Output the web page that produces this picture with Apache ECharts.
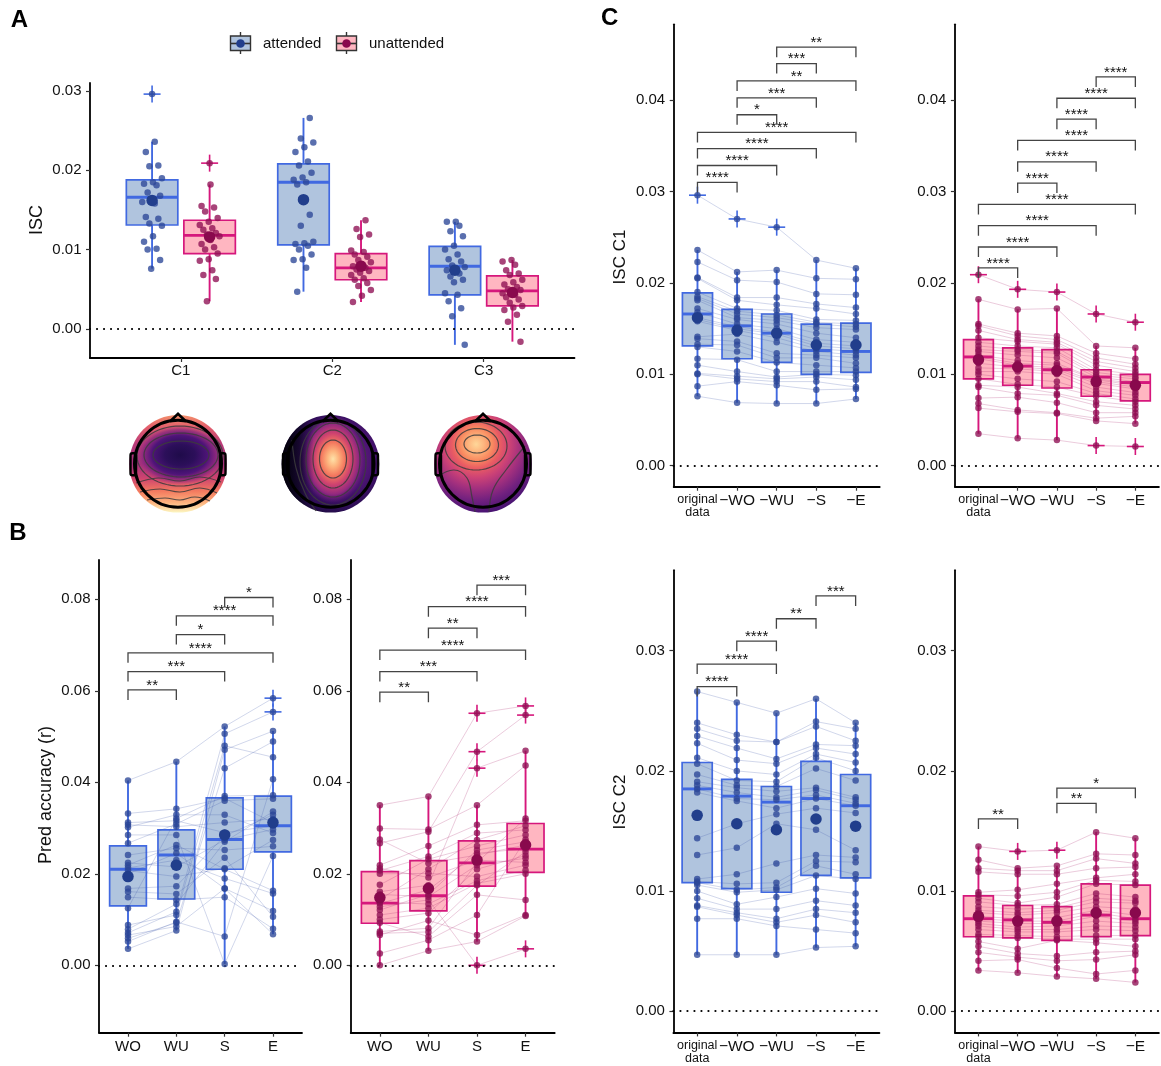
<!DOCTYPE html>
<html><head><meta charset="utf-8">
<script src="https://cdn.jsdelivr.net/npm/echarts@6/dist/echarts.min.js"></script>
<style>html,body{margin:0;padding:0;background:#fff}#c{width:1161px;height:1066px}</style>
</head><body><div id="c"></div>
<script>
const FONT = "'Liberation Sans', Arial, Helvetica, sans-serif";
// ---------- categories & ticks ----------
const CAT_A = ['C1', 'C2', 'C3'];
const CAT_B = ['WO', 'WU', 'S', 'E'];
const CAT_C = ['original\ndata', '−WO', '−WU', '−S', '−E'];
const GROUPS = ['attended', 'unattended'];
const TICKS_A = [0, 0.01, 0.02, 0.03];
const TICKS_B = [0, 0.02, 0.04, 0.06, 0.08];
const TICKS_C1 = [0, 0.01, 0.02, 0.03, 0.04];
const TICKS_C2 = [0, 0.01, 0.02, 0.03];

// ---------- C1 ISC (per subject): original, -WO, -WU, -S, -E ----------
const C1_ATT_ORIG = [0.0296,0.0236,0.0223,0.0206,0.0205,0.0190,0.0185,0.0183,0.0181,0.0172,0.0168,0.0162,0.0160,0.0158,0.0141,0.0139,0.0133,0.0130,0.0117,0.0110,0.0101,0.0100,0.0087,0.0076];
const C1_ATT_WO = [0.0270,0.0212,0.0203,0.0184,0.0181,0.0172,0.0169,0.0166,0.0162,0.0160,0.0155,0.0152,0.0150,0.0148,0.0144,0.0136,0.0132,0.0125,0.0116,0.0103,0.0098,0.0095,0.0092,0.0069];
const C1_ATT_WU = [0.0261,0.0214,0.0201,0.0184,0.0176,0.0170,0.0165,0.0162,0.0159,0.0155,0.0150,0.0146,0.0144,0.0140,0.0135,0.0123,0.0118,0.0113,0.0103,0.0097,0.0095,0.0092,0.0088,0.0068];
const C1_ATT_S = [0.0225,0.0205,0.0188,0.0177,0.0172,0.0160,0.0157,0.0155,0.0151,0.0145,0.0138,0.0134,0.0131,0.0128,0.0125,0.0121,0.0118,0.0110,0.0103,0.0100,0.0097,0.0092,0.0083,0.0068];
const C1_ATT_E = [0.0216,0.0204,0.0187,0.0173,0.0166,0.0159,0.0155,0.0152,0.0149,0.0140,0.0135,0.0131,0.0128,0.0125,0.0121,0.0118,0.0112,0.0107,0.0103,0.0099,0.0094,0.0086,0.0084,0.0073];
const C1_UN_ORIG = [0.0209,0.0182,0.0155,0.0153,0.0148,0.0140,0.0135,0.0131,0.0127,0.0125,0.0121,0.0119,0.0117,0.0112,0.0107,0.0103,0.0100,0.0095,0.0088,0.0086,0.0074,0.0068,0.0063,0.0035];
const C1_UN_WO = [0.0193,0.0171,0.0145,0.0142,0.0138,0.0136,0.0131,0.0127,0.0125,0.0121,0.0115,0.0112,0.0110,0.0108,0.0106,0.0103,0.0095,0.0089,0.0086,0.0079,0.0075,0.0061,0.0059,0.0030];
const C1_UN_WU = [0.0190,0.0172,0.0142,0.0138,0.0135,0.0133,0.0129,0.0125,0.0123,0.0118,0.0112,0.0110,0.0107,0.0105,0.0103,0.0100,0.0092,0.0086,0.0079,0.0077,0.0069,0.0058,0.0057,0.0028];
const C1_UN_S = [0.0166,0.0131,0.0123,0.0118,0.0114,0.0110,0.0105,0.0102,0.0099,0.0097,0.0095,0.0094,0.0092,0.0090,0.0086,0.0082,0.0079,0.0076,0.0070,0.0066,0.0058,0.0052,0.0049,0.0022];
const C1_UN_E = [0.0157,0.0129,0.0117,0.0111,0.0107,0.0103,0.0100,0.0097,0.0095,0.0092,0.0090,0.0088,0.0086,0.0084,0.0080,0.0077,0.0073,0.0070,0.0066,0.0062,0.0058,0.0054,0.0046,0.0021];
// ---------- C2 ISC ----------
const C2_ATT_ORIG = [0.0266,0.0240,0.0235,0.0229,0.0223,0.0211,0.0206,0.0197,0.0191,0.0188,0.0185,0.0182,0.0144,0.0130,0.0110,0.0108,0.0107,0.0105,0.0100,0.0094,0.0088,0.0087,0.0077,0.0047];
const C2_ATT_WO = [0.0257,0.0230,0.0225,0.0219,0.0209,0.0200,0.0192,0.0188,0.0186,0.0182,0.0177,0.0175,0.0156,0.0136,0.0114,0.0106,0.0101,0.0099,0.0089,0.0085,0.0082,0.0080,0.0077,0.0047];
const C2_ATT_WU = [0.0248,0.0224,0.0224,0.0210,0.0206,0.0197,0.0191,0.0187,0.0183,0.0178,0.0176,0.0169,0.0164,0.0156,0.0123,0.0107,0.0103,0.0101,0.0095,0.0085,0.0077,0.0074,0.0071,0.0047];
const C2_ATT_S = [0.0260,0.0241,0.0237,0.0222,0.0219,0.0214,0.0211,0.0202,0.0186,0.0184,0.0180,0.0177,0.0169,0.0151,0.0130,0.0125,0.0121,0.0113,0.0102,0.0092,0.0085,0.0080,0.0068,0.0053];
const C2_ATT_E = [0.0240,0.0235,0.0225,0.0221,0.0214,0.0207,0.0200,0.0192,0.0178,0.0176,0.0173,0.0171,0.0165,0.0134,0.0128,0.0124,0.0114,0.0110,0.0098,0.0088,0.0082,0.0074,0.0065,0.0054];
const C2_UN_ORIG = [0.0137,0.0126,0.0119,0.0116,0.0099,0.0097,0.0094,0.0091,0.0087,0.0084,0.0082,0.0079,0.0077,0.0075,0.0073,0.0071,0.0068,0.0064,0.0062,0.0058,0.0054,0.0049,0.0042,0.0034];
const C2_UN_WO = [0.0133,0.0119,0.0117,0.0114,0.0101,0.0096,0.0090,0.0088,0.0085,0.0082,0.0080,0.0077,0.0075,0.0073,0.0070,0.0068,0.0066,0.0063,0.0061,0.0052,0.0048,0.0045,0.0043,0.0032];
const C2_UN_WU = [0.0134,0.0121,0.0117,0.0114,0.0106,0.0099,0.0095,0.0089,0.0086,0.0084,0.0082,0.0078,0.0075,0.0073,0.0071,0.0068,0.0066,0.0062,0.0060,0.0059,0.0046,0.0042,0.0036,0.0029];
const C2_UN_S = [0.0149,0.0131,0.0127,0.0119,0.0111,0.0109,0.0106,0.0098,0.0094,0.0091,0.0087,0.0084,0.0082,0.0079,0.0075,0.0071,0.0068,0.0063,0.0060,0.0057,0.0049,0.0043,0.0031,0.0027];
const C2_UN_E = [0.0144,0.0130,0.0123,0.0120,0.0114,0.0108,0.0105,0.0095,0.0092,0.0090,0.0085,0.0080,0.0077,0.0075,0.0073,0.0070,0.0067,0.0063,0.0060,0.0054,0.0050,0.0047,0.0034,0.0024];
// ---------- C3 ISC (panel A only) ----------
const C3_ATT = [0.0135,0.0135,0.0130,0.0123,0.0117,0.0105,0.0100,0.0094,0.0088,0.0085,0.0080,0.0078,0.0076,0.0074,0.0070,0.0066,0.0062,0.0059,0.0045,0.0043,0.0035,0.0026,0.0016,-0.0020];
const C3_UN = [0.0087,0.0085,0.0081,0.0074,0.0070,0.0068,0.0062,0.0059,0.0056,0.0053,0.0050,0.0049,0.0047,0.0045,0.0043,0.0040,0.0037,0.0033,0.0029,0.0027,0.0024,0.0018,0.0009,-0.0016];
// ---------- B prediction accuracy (per subject): WO, WU, S, E ----------
const B_ATT_WO = [0.0404,0.0332,0.0312,0.0307,0.0302,0.0285,0.0267,0.0241,0.0224,0.0219,0.0213,0.0207,0.0200,0.0168,0.0161,0.0149,0.0125,0.0088,0.0079,0.0071,0.0066,0.0059,0.0052,0.0036];
const B_ATT_WU = [0.0445,0.0342,0.0316,0.0303,0.0329,0.0285,0.0309,0.0256,0.0215,0.0263,0.0230,0.0194,0.0245,0.0173,0.0156,0.0143,0.0321,0.0110,0.0134,0.0117,0.0085,0.0093,0.0095,0.0076];
const B_ATT_S = [0.0522,0.0365,0.0290,0.0312,0.0329,0.0003,0.0360,0.0252,0.0274,0.0210,0.0190,0.0212,0.0168,0.0283,0.0235,0.0149,0.0370,0.0480,0.0270,0.0506,0.0168,0.0431,0.0063,0.0471];
const B_ATT_E = [0.0584,0.0312,0.0305,0.0320,0.0289,0.0239,0.0364,0.0260,0.0297,0.0163,0.0157,0.0274,0.0119,0.0329,0.0106,0.0080,0.0372,0.0455,0.0336,0.0554,0.0068,0.0489,0.0407,0.0512];
const B_UN_WO = [0.0350,0.0299,0.0275,0.0267,0.0219,0.0212,0.0207,0.0200,0.0176,0.0161,0.0155,0.0144,0.0138,0.0135,0.0128,0.0121,0.0110,0.0100,0.0093,0.0074,0.0070,0.0066,0.0026,0.0000];
const B_UN_WU = [0.0369,0.0297,0.0223,0.0292,0.0261,0.0192,0.0238,0.0201,0.0232,0.0175,0.0150,0.0210,0.0134,0.0165,0.0143,0.0155,0.0125,0.0114,0.0063,0.0081,0.0073,0.0098,0.0055,0.0032];
const B_UN_S = [0.0551,0.0350,0.0241,0.0467,0.0307,0.0230,0.0289,0.0194,0.0261,0.0431,0.0219,0.0274,0.0185,0.0245,0.0000,0.0252,0.0179,0.0210,0.0154,0.0225,0.0175,0.0066,0.0110,0.0052];
const B_UN_E = [0.0567,0.0437,0.0263,0.0547,0.0316,0.0225,0.0296,0.0219,0.0285,0.0469,0.0234,0.0305,0.0208,0.0255,0.0036,0.0270,0.0200,0.0240,0.0143,0.0321,0.0248,0.0110,0.0275,0.0108];

// ---------- box statistics: [lower whisker, Q1, median, Q3, upper whisker] ----------
const BOX_A_ATT = [[0.0076,0.0131,0.0166,0.0188,0.0236],[0.0047,0.0106,0.0185,0.0208,0.0266],[-0.0020,0.0043,0.0079,0.0104,0.0135]];
const BOX_A_UN = [[0.0035,0.0095,0.0118,0.0137,0.0182],[0.0034,0.0062,0.0077,0.0095,0.0137],[-0.0016,0.0029,0.0048,0.0067,0.0087]];
const MEAN_A_ATT = [0.0162, 0.0163, 0.0074];
const MEAN_A_UN = [0.0116, 0.0079, 0.0046];
const BOX_B_ATT = [[0.0036,0.0130,0.0210,0.0261,0.0404],[0.0076,0.0145,0.0241,0.0296,0.0445],[0.0003,0.0210,0.0275,0.0366,0.0522],[0.0068,0.0248,0.0305,0.0370,0.0512]];
const MEAN_B_ATT = [0.0194, 0.0219, 0.0285, 0.0312];
const BOX_B_UN = [[0.0000,0.0092,0.0136,0.0205,0.0350],[0.0032,0.0119,0.0152,0.0229,0.0369],[0.0052,0.0173,0.0224,0.0272,0.0350],[0.0108,0.0203,0.0254,0.0310,0.0469]];
const MEAN_B_UN = [0.0148, 0.0168, 0.0230, 0.0263];
const BOX_C1_ATT = [[0.0076,0.0131,0.0166,0.0189,0.0236],[0.0069,0.0117,0.0153,0.0171,0.0212],[0.0068,0.0113,0.0145,0.0166,0.0214],[0.0068,0.0100,0.0126,0.0155,0.0225],[0.0073,0.0102,0.0125,0.0156,0.0216]];
const MEAN_C1_ATT = [0.0162, 0.0148, 0.0145, 0.0132, 0.0132];
const BOX_C1_UN = [[0.0035,0.0095,0.0119,0.0138,0.0182],[0.0030,0.0088,0.0109,0.0129,0.0171],[0.0028,0.0085,0.0105,0.0127,0.0172],[0.0049,0.0076,0.0097,0.0105,0.0131],[0.0046,0.0071,0.0091,0.0100,0.0129]];
const MEAN_C1_UN = [0.0116, 0.0108, 0.0104, 0.0092, 0.0088];
const BOX_C2_ATT = [[0.0047,0.0107,0.0185,0.0207,0.0266],[0.0047,0.0102,0.0179,0.0193,0.0257],[0.0047,0.0099,0.0174,0.0187,0.0248],[0.0053,0.0113,0.0177,0.0208,0.0260],[0.0054,0.0111,0.0171,0.0197,0.0240]];
const MEAN_C2_ATT = [0.0163, 0.0156, 0.0151, 0.0160, 0.0154];
const BOX_C2_UN = [[0.0034,0.0062,0.0077,0.0096,0.0137],[0.0032,0.0061,0.0076,0.0088,0.0119],[0.0029,0.0059,0.0074,0.0087,0.0121],[0.0027,0.0062,0.0080,0.0106,0.0149],[0.0024,0.0063,0.0077,0.0105,0.0144]];
const MEAN_C2_UN = [0.0079, 0.0075, 0.0075, 0.0082, 0.0082];

// ---------- significance brackets: [from, to, y, label] ----------
const BR_B_ATT = [[0,1,0.0602,'**'],[0,2,0.0642,'***'],[0,3,0.0683,'****'],[1,2,0.0723,'*'],[1,3,0.0764,'****'],[2,3,0.0804,'*']];
const BR_B_UN = [[0,1,0.0597,'**'],[0,2,0.0642,'***'],[0,3,0.0689,'****'],[1,2,0.0737,'**'],[1,3,0.0784,'****'],[2,3,0.0831,'***']];
const BR_C1_ATT = [[0,1,0.0310,'****'],[0,2,0.03285,'****'],[0,3,0.0347,'****'],[0,4,0.03647,'****'],[1,2,0.0384,'*'],[1,3,0.04025,'***'],[1,4,0.0421,'**'],[2,3,0.0440,'***'],[2,4,0.0458,'**']];
const BR_C1_UN = [[0,1,0.02164,'****'],[0,2,0.02393,'****'],[0,3,0.02626,'****'],[0,4,0.02859,'****'],[1,2,0.03092,'****'],[1,3,0.03325,'****'],[1,4,0.03559,'****'],[2,3,0.03792,'****'],[2,4,0.04021,'****'],[3,4,0.04254,'****']];
const BR_C2_ATT = [[0,1,0.02702,'****'],[0,2,0.02889,'****'],[1,2,0.03079,'****'],[2,3,0.03266,'**'],[3,4,0.03456,'***']];
const BR_C2_UN = [[0,1,0.0160,'**'],[2,3,0.0173,'**'],[2,4,0.01856,'*']];

// ---------- styles ----------
const PAL = {
  att: {border:'#4169e1', fill:'#b0c4de', pt:'#2b4797', mean:'#213e8c', line:'rgba(70,95,175,0.28)'},
  un:  {border:'#d6177c', fill:'#ffb6c1', pt:'#8e1053', mean:'#89094d', line:'rgba(175,45,115,0.28)'}
};

// ---------- axes ----------
const grids = [
  {left:90, top:83, width:484.5, height:275},
  {left:99, top:560, width:203, height:472.7},
  {left:350.7, top:560, width:204, height:472.7},
  {left:673.7, top:24.3, width:206, height:462.4},
  {left:954.9, top:24.3, width:204, height:462.4},
  {left:673.4, top:570.2, width:206, height:462.2},
  {left:954.9, top:570.2, width:204, height:462.2}
];
function xAx(g, cats, margin, rich) {
  const vals = cats.map((_, i) => i);
  const ax = {gridIndex:g, type:'value', min:-0.6, max:cats.length - 0.4,
    axisLine:{show:true, onZero:false, lineStyle:{color:'#000', width:1.8}},
    axisTick:{show:true, length:4, customValues:vals, lineStyle:{color:'#333', width:1.2}},
    axisLabel:{show:true, customValues:vals, margin:margin, color:'#111', fontSize:15, lineHeight:16, fontFamily:FONT,
      formatter: v => cats[Math.round(v)]},
    splitLine:{show:false}};
  if (rich) {
    ax.axisLabel.formatter = v => { const i = Math.round(v); return i === 0 ? '{s|original}\n{s|data}' : '{b|' + cats[i] + '}'; };
    ax.axisLabel.rich = {s:{fontSize:12.5, lineHeight:13, color:'#111', fontFamily:FONT}, b:{fontSize:15.5, lineHeight:16, color:'#111', fontFamily:FONT}};
  }
  return ax;
}
function yAx(g, min, max, ticks) {
  return {gridIndex:g, type:'value', min:min, max:max,
    axisLine:{show:true, onZero:false, lineStyle:{color:'#000', width:1.8}},
    axisTick:{show:true, length:4, customValues:ticks, lineStyle:{color:'#333', width:1.2}},
    axisLabel:{show:true, customValues:ticks, margin:8.5, color:'#111', fontSize:15, fontFamily:FONT, formatter: v => v.toFixed(2)},
    splitLine:{show:false}};
}
const xAxes = [xAx(0, CAT_A, 5, false), xAx(1, CAT_B, 6.5), xAx(2, CAT_B, 6.5), xAx(3, CAT_C, 6.5, true), xAx(4, CAT_C, 6.5, true), xAx(5, CAT_C, 6.5, true), xAx(6, CAT_C, 6.5, true)];
const yAxes = [yAx(0, -0.00366, 0.0310, TICKS_A), yAx(1, -0.01473, 0.0886, TICKS_B), yAx(2, -0.01473, 0.0886, TICKS_B),
  yAx(3, -0.0023, 0.0483, TICKS_C1), yAx(4, -0.0023, 0.0483, TICKS_C1), yAx(5, -0.00176, 0.0367, TICKS_C2), yAx(6, -0.00176, 0.0367, TICKS_C2)];

// ---------- series builders ----------
const series = [];
function boxSeries(ax, pos, boxes, hw, pal) {
  series.push({type:'custom', xAxisIndex:ax, yAxisIndex:ax, z:2, silent:true,
    data: boxes.map((b, k) => [pos[k], b[0], b[1], b[2], b[3], b[4]]),
    encode:{x:0, y:[1,2,3,4,5]},
    renderItem: (p, api) => {
      const x = api.value(0);
      const lo = api.coord([x, api.value(1)]), q1 = api.coord([x, api.value(2)]), md = api.coord([x, api.value(3)]);
      const q3 = api.coord([x, api.value(4)]), hi = api.coord([x, api.value(5)]);
      const l = api.coord([x - hw, 0])[0], r = api.coord([x + hw, 0])[0];
      return {type:'group', children:[
        {type:'line', shape:{x1:hi[0], y1:hi[1], x2:q3[0], y2:q3[1]}, style:{stroke:pal.border, lineWidth:1.9}},
        {type:'line', shape:{x1:q1[0], y1:q1[1], x2:lo[0], y2:lo[1]}, style:{stroke:pal.border, lineWidth:1.9}},
        {type:'rect', shape:{x:l, y:q3[1], width:r - l, height:q1[1] - q3[1]}, style:{fill:pal.fill, stroke:pal.border, lineWidth:1.7}},
        {type:'line', shape:{x1:l, y1:md[1], x2:r, y2:md[1]}, style:{stroke:pal.border, lineWidth:2.9}}
      ]};
    }});
}
function crossSeries(ax, pts, pal) {
  series.push({type:'custom', xAxisIndex:ax, yAxisIndex:ax, z:4, silent:true, data:pts, encode:{x:0, y:1},
    renderItem: (p, api) => {
      const c = api.coord([api.value(0), api.value(1)]);
      return {type:'group', children:[
        {type:'line', shape:{x1:c[0] - 8.5, y1:c[1], x2:c[0] + 8.5, y2:c[1]}, style:{stroke:pal.border, lineWidth:1.6}},
        {type:'line', shape:{x1:c[0], y1:c[1] - 8.5, x2:c[0], y2:c[1] + 8.5}, style:{stroke:pal.border, lineWidth:1.6}}
      ]};
    }});
}
function isOut(v, b) { return v > b[4] + 0.0003 || v < b[0] - 0.0003; }
function outliers(cols, boxes, pos) {
  const out = [];
  cols.forEach((col, k) => col.forEach(v => { if (isOut(v, boxes[k])) out.push([pos[k], v]); }));
  return out;
}
function pointSeries(ax, pts, pal, withZero) {
  const s = {type:'scatter', xAxisIndex:ax, yAxisIndex:ax, z:5, silent:true, data:pts, symbolSize:6.5,
    itemStyle:{color:pal.pt, opacity:0.78}};
  if (withZero) s.markLine = {silent:true, symbol:'none', label:{show:false}, animation:false,
    lineStyle:{color:'#000', width:2.1, type:[0.1, 6.9], cap:'round'}, data:[{yAxis:0}]};
  series.push(s);
}
function meanSeries(ax, pts, pal) {
  series.push({type:'scatter', xAxisIndex:ax, yAxisIndex:ax, z:6, silent:true, data:pts, symbolSize:11.5,
    itemStyle:{color:pal.mean, opacity:1}});
}
function bracketSeries(ax, br) {
  series.push({type:'custom', xAxisIndex:ax, yAxisIndex:ax, z:7, silent:true,
    data: br.map(b => [b[0], b[1], b[2]]), encode:{x:[0,1], y:2},
    renderItem: (p, api) => {
      const a = api.coord([api.value(0), api.value(2)]), b = api.coord([api.value(1), api.value(2)]);
      const tip = 10;
      return {type:'group', children:[
        {type:'polyline', shape:{points:[[a[0], a[1] + tip], [a[0], a[1]], [b[0], b[1]], [b[0], b[1] + tip]]},
          style:{stroke:'#444', lineWidth:1.3, fill:null}},
        {type:'text', x:(a[0] + b[0]) / 2, y:a[1] - 4.5,
          style:{text:br[p.dataIndex][3], fill:'#111', fontSize:15, fontFamily:FONT, align:'center', verticalAlign:'middle'}}
      ]};
    }});
}
function pairedPanel(ax, cols, boxes, means, br, pal) {
  const pos = cols.map((_, k) => k);
  boxSeries(ax, pos, boxes, 0.38, pal);
  series.push({type:'lines', coordinateSystem:'cartesian2d', xAxisIndex:ax, yAxisIndex:ax, polyline:true, z:3, silent:true,
    data: cols[0].map((_, s) => ({coords: cols.map((c, k) => [k, c[s]])})),
    lineStyle:{color:pal.line, width:0.9, opacity:1}});
  crossSeries(ax, outliers(cols, boxes, pos), pal);
  const pts = [];
  cols.forEach((c, k) => c.forEach(v => pts.push([k, v])));
  pointSeries(ax, pts, pal, true);
  meanSeries(ax, means.map((m, k) => [k, m]), pal);
  bracketSeries(ax, br);
}

// ---------- panel A ----------
const A_ATT = [C1_ATT_ORIG, C2_ATT_ORIG, C3_ATT];
const A_UN = [C1_UN_ORIG, C2_UN_ORIG, C3_UN];
const DODGE = 0.19;
const jit = i => (((i * 7) % 12) / 11 - 0.5) * 0.13;
[[A_ATT, BOX_A_ATT, MEAN_A_ATT, PAL.att, -DODGE], [A_UN, BOX_A_UN, MEAN_A_UN, PAL.un, DODGE]].forEach(([cols, boxes, means, pal, off], gi) => {
  const pos = cols.map((_, k) => k + off);
  boxSeries(0, pos, boxes, 0.17, pal);
  crossSeries(0, outliers(cols, boxes, pos), pal);
  const pts = [];
  cols.forEach((c, k) => c.forEach((v, i) => pts.push([k + off + (isOut(v, boxes[k]) ? 0 : jit(i + gi * 5 + k * 3)), v])));
  pointSeries(0, pts, pal, gi === 0);
  meanSeries(0, means.map((m, k) => [k + off, m]), pal);
});

// ---------- panel B ----------
pairedPanel(1, [B_ATT_WO, B_ATT_WU, B_ATT_S, B_ATT_E], BOX_B_ATT, MEAN_B_ATT, BR_B_ATT, PAL.att);
pairedPanel(2, [B_UN_WO, B_UN_WU, B_UN_S, B_UN_E], BOX_B_UN, MEAN_B_UN, BR_B_UN, PAL.un);
// ---------- panel C ----------
pairedPanel(3, [C1_ATT_ORIG, C1_ATT_WO, C1_ATT_WU, C1_ATT_S, C1_ATT_E], BOX_C1_ATT, MEAN_C1_ATT, BR_C1_ATT, PAL.att);
pairedPanel(4, [C1_UN_ORIG, C1_UN_WO, C1_UN_WU, C1_UN_S, C1_UN_E], BOX_C1_UN, MEAN_C1_UN, BR_C1_UN, PAL.un);
pairedPanel(5, [C2_ATT_ORIG, C2_ATT_WO, C2_ATT_WU, C2_ATT_S, C2_ATT_E], BOX_C2_ATT, MEAN_C2_ATT, BR_C2_ATT, PAL.att);
pairedPanel(6, [C2_UN_ORIG, C2_UN_WO, C2_UN_WU, C2_UN_S, C2_UN_E], BOX_C2_UN, MEAN_C2_UN, BR_C2_UN, PAL.un);

// ---------- decorations: titles, legend, topographic maps ----------
const G = echarts.graphic;
function txt(x, y, t, size, opts) {
  return Object.assign({type:'text', x:x, y:y, style:Object.assign({text:t, fontSize:size, fontFamily:FONT, fill:'#111', align:'center', verticalAlign:'middle'}, (opts && opts.style) || {})}, (opts && opts.el) || {});
}
function ell(cx, cy, rx, ry, n) {
  const pts = [];
  for (let i = 0; i < (n || 60); i++) { const a = i / (n || 60) * Math.PI * 2; pts.push([cx + rx * Math.cos(a), cy + ry * Math.sin(a)]); }
  return pts;
}
function contour(points, closed) {
  return {type: closed ? 'polygon' : 'polyline', shape:{points:points, smooth: closed ? 0 : 0.4}, style:{stroke:'#3c3c3c', lineWidth:1.2, fill:null, opacity:0.85}};
}
function seg(cx, cy, r, a1, a2) { // circle segment between two angles (deg)
  const pts = [];
  for (let i = 0; i <= 30; i++) { const a = (a1 + (a2 - a1) * i / 30) * Math.PI / 180; pts.push([cx + r * Math.cos(a), cy + r * Math.sin(a)]); }
  return pts;
}
function head(cx, cy) {
  return [
    {type:'circle', shape:{cx:cx, cy:cy, r:43.5}, style:{stroke:'#000', lineWidth:3, fill:null}},
    {type:'polyline', shape:{points:[[cx - 8, cy - 42.3], [cx, cy - 50], [cx + 8, cy - 42.3]]}, style:{stroke:'#000', lineWidth:2.6, fill:null}},
    {type:'rect', shape:{x:cx - 47.5, y:cy - 10.5, width:5.5, height:22, r:2}, style:{stroke:'#000', lineWidth:2.4, fill:null}},
    {type:'rect', shape:{x:cx + 42, y:cy - 10.5, width:5.5, height:22, r:2}, style:{stroke:'#000', lineWidth:2.4, fill:null}}
  ];
}
const TY = 463.8, TR = 48.8;
const topo1 = [
  {type:'circle', shape:{cx:178, cy:TY, r:TR}, style:{fill:new G.LinearGradient(0,0,0,1,[
    {offset:0,color:'#f3906b'},{offset:0.12,color:'#e4606c'},{offset:0.3,color:'#b93a79'},{offset:0.5,color:'#a5317c'},
    {offset:0.65,color:'#cf446f'},{offset:0.78,color:'#f47a5f'},{offset:0.9,color:'#fdb47f'},{offset:1,color:'#fcf7c2'}])}},
  {type:'circle', x:180, y:455, scaleX:1.45, scaleY:1, shape:{cx:0, cy:0, r:30}, style:{fill:new G.RadialGradient(0.5,0.5,0.5,[
    {offset:0,color:'#1f0b4a'},{offset:0.35,color:'#2c0f5a'},{offset:0.65,color:'#4f1479'},{offset:0.85,color:'rgba(120,32,128,0.6)'},{offset:1,color:'rgba(160,50,125,0)'}])}},
  contour(ell(181, 455, 28, 14), true), contour(ell(181, 455, 37, 22), true), contour(ell(180, 456, 43, 30), true),
  contour([[136,483],[158,478],[180,481],[200,477],[221,482]]),
  contour([[140,492],[160,489],[180,492],[200,488],[217,493]]),
  contour([[147,500],[165,498],[180,500],[195,497],[210,501]])
].concat(head(178, TY));
const topo2 = [
  {type:'circle', shape:{cx:330.5, cy:TY, r:TR}, style:{fill:new G.RadialGradient(0.58,0.45,0.62,[
    {offset:0,color:'#7e2581'},{offset:0.55,color:'#4b1373'},{offset:0.85,color:'#2a0d52'},{offset:1,color:'#150a33'}])}},
  {type:'circle', x:333, y:459, scaleX:0.72, scaleY:1, shape:{cx:0, cy:0, r:44}, style:{fill:new G.RadialGradient(0.5,0.5,0.5,[
    {offset:0,color:'#fee2a9'},{offset:0.18,color:'#fdb37d'},{offset:0.38,color:'#f4775e'},{offset:0.58,color:'#cf436f'},{offset:0.8,color:'#93297f'},{offset:1,color:'rgba(100,30,125,0)'}])}},
  {type:'polygon', shape:{points:seg(330.5, TY, TR, 110, 250)}, style:{fill:new G.LinearGradient(0,0,1,0,[
    {offset:0,color:'rgba(0,0,4,1)'},{offset:0.55,color:'rgba(8,4,25,0.7)'},{offset:1,color:'rgba(30,10,60,0)'}])}},
  contour(ell(333, 459, 13.5, 19), true), contour(ell(333, 459, 20, 29), true), contour(ell(333, 460, 27, 37), true), contour(ell(333, 462, 33, 43), true),
  contour([[292,440],[296,468],[305,493],[316,511]])
].concat(head(330.5, TY));
const topo3 = [
  {type:'circle', shape:{cx:483, cy:TY, r:TR}, style:{fill:new G.RadialGradient(0.43,0.3,0.82,[
    {offset:0,color:'#fed799'},{offset:0.1,color:'#fdb47d'},{offset:0.2,color:'#f98b60'},{offset:0.3,color:'#e95c63'},{offset:0.42,color:'#cc4276'},
    {offset:0.55,color:'#a3307e'},{offset:0.7,color:'#72217f'},{offset:0.85,color:'#4b1473'},{offset:1,color:'#2f0d5e'}])}},
  contour(ell(477, 444, 13, 9), true), contour(ell(477, 445, 21.5, 16.5), true), contour(ell(476, 446, 31, 24), true),
  contour([[437,477],[454,470],[467,478],[472,497],[475,512]]),
  contour([[525,446],[506,470],[493,490],[489,512]])
].concat(head(483, TY));

const graphics = [
  txt(19.5, 20, 'A', 24, {style:{fontWeight:'bold', fill:'#000'}}),
  txt(18, 533.5, 'B', 24, {style:{fontWeight:'bold', fill:'#000'}}),
  txt(609.7, 18, 'C', 24, {style:{fontWeight:'bold', fill:'#000'}}),
  txt(37, 220, 'ISC', 18, {el:{rotation:Math.PI / 2}}),
  txt(46, 795, 'Pred accuracy (r)', 18, {el:{rotation:Math.PI / 2}}),
  txt(620.6, 257, 'ISC C1', 17, {el:{rotation:Math.PI / 2}}),
  txt(620.6, 802, 'ISC C2', 17, {el:{rotation:Math.PI / 2}}),
  // legend
  {type:'line', shape:{x1:240.5, y1:32, x2:240.5, y2:54}, style:{stroke:'#333', lineWidth:1.4}},
  {type:'rect', shape:{x:230.5, y:36, width:20, height:14.5}, style:{fill:PAL.att.fill, stroke:'#333', lineWidth:1.4}},
  {type:'line', shape:{x1:230.5, y1:43.5, x2:250.5, y2:43.5}, style:{stroke:'#333', lineWidth:1.6}},
  {type:'circle', shape:{cx:240.5, cy:43.5, r:4.3}, style:{fill:PAL.att.mean}},
  txt(263, 44, GROUPS[0], 15, {style:{align:'left'}}),
  {type:'line', shape:{x1:346.5, y1:32, x2:346.5, y2:54}, style:{stroke:'#333', lineWidth:1.4}},
  {type:'rect', shape:{x:336.5, y:36, width:20, height:14.5}, style:{fill:PAL.un.fill, stroke:'#333', lineWidth:1.4}},
  {type:'line', shape:{x1:336.5, y1:43.5, x2:356.5, y2:43.5}, style:{stroke:'#333', lineWidth:1.6}},
  {type:'circle', shape:{cx:346.5, cy:43.5, r:4.3}, style:{fill:PAL.un.mean}},
  txt(369, 44, GROUPS[1], 15, {style:{align:'left'}}),
  {type:'group', children:topo1},
  {type:'group', children:topo2},
  {type:'group', children:topo3}
];

const chart = echarts.init(document.getElementById('c'), null, {renderer:'canvas'});
chart.setOption({
  animation:false,
  backgroundColor:'#fff',
  textStyle:{fontFamily:FONT},
  grid:grids,
  xAxis:xAxes,
  yAxis:yAxes,
  series:series,
  graphic:graphics
});
</script></body></html>
